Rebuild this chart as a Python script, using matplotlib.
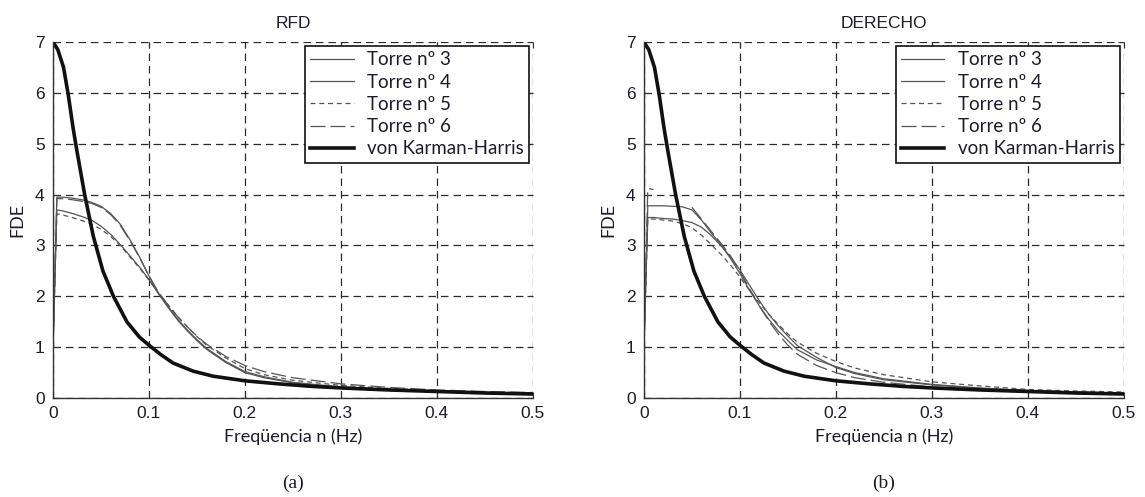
import matplotlib.pyplot as plt
import numpy as np


# frequency grid (Hz)
freq = [0.0, 0.004, 0.01, 0.02, 0.03, 0.04, 0.05, 0.06, 0.07, 0.08, 0.09,
        0.10, 0.11, 0.12, 0.13, 0.14, 0.15, 0.16, 0.18, 0.20, 0.22, 0.25,
        0.30, 0.35, 0.40, 0.45, 0.50]

# von Karman-Harris spectrum
vkh_freq = [0.0, 0.005, 0.011, 0.016, 0.021, 0.025, 0.033, 0.042, 0.052,
            0.063, 0.077, 0.09, 0.10, 0.112, 0.125, 0.146, 0.167, 0.20,
            0.235, 0.27, 0.30, 0.35, 0.40, 0.45, 0.50]
vkh_fde = [7.0, 6.85, 6.5, 5.95, 5.3, 4.85, 4.0, 3.18, 2.5, 2.0, 1.5, 1.2,
           1.04, 0.86, 0.69, 0.53, 0.43, 0.34, 0.28, 0.23, 0.20, 0.16, 0.13,
           0.10, 0.08]

# RFD towers
rfd_t3 = [1.0, 3.95, 3.95, 3.93, 3.9, 3.85, 3.77, 3.63, 3.42, 3.12, 2.78,
          2.40, 2.05, 1.78, 1.53, 1.32, 1.13, 0.96, 0.70, 0.50, 0.40, 0.30,
          0.21, 0.16, 0.13, 0.11, 0.09]
rfd_t4 = [1.0, 3.70, 3.68, 3.63, 3.57, 3.50, 3.38, 3.22, 3.02, 2.80, 2.58,
          2.33, 2.05, 1.80, 1.55, 1.34, 1.15, 0.98, 0.72, 0.52, 0.42, 0.31,
          0.22, 0.17, 0.13, 0.11, 0.09]
rfd_t5 = [1.0, 3.62, 3.60, 3.55, 3.49, 3.42, 3.32, 3.18, 3.00, 2.78, 2.56,
          2.32, 2.07, 1.83, 1.60, 1.40, 1.21, 1.04, 0.79, 0.58, 0.46, 0.35,
          0.25, 0.19, 0.15, 0.12, 0.10]
rfd_t6 = [1.0, 3.92, 3.92, 3.90, 3.87, 3.83, 3.75, 3.61, 3.40, 3.10, 2.77,
          2.40, 2.08, 1.83, 1.60, 1.40, 1.22, 1.06, 0.82, 0.64, 0.52, 0.40,
          0.28, 0.21, 0.16, 0.13, 0.11]

# DERECHO towers
der_t3 = [1.0, 3.78, 3.78, 3.78, 3.77, 3.76, 3.70, 3.50, 3.25, 3.02, 2.75,
          2.45, 2.12, 1.82, 1.55, 1.32, 1.13, 0.95, 0.75, 0.62, 0.50, 0.38,
          0.27, 0.20, 0.15, 0.12, 0.10]
der_t4 = [1.0, 3.55, 3.55, 3.53, 3.52, 3.49, 3.45, 3.36, 3.20, 3.00, 2.78,
          2.52, 2.22, 1.92, 1.65, 1.42, 1.22, 1.03, 0.80, 0.60, 0.48, 0.36,
          0.26, 0.19, 0.15, 0.12, 0.10]
der_t5 = [1.0, 3.52, 3.52, 3.50, 3.48, 3.43, 3.35, 3.20, 3.02, 2.83, 2.62,
          2.38, 2.12, 1.88, 1.65, 1.45, 1.26, 1.10, 0.88, 0.72, 0.59, 0.46,
          0.32, 0.24, 0.17, 0.14, 0.12]
der_t6 = [1.0, 4.12, 4.10, np.nan, np.nan, np.nan, 3.75, 3.52, 3.28, 3.05,
          2.80, 2.50, 2.15, 1.82, 1.52, 1.26, 1.04, 0.86, 0.64, 0.50, 0.40,
          0.31, 0.22, 0.17, 0.13, 0.11, 0.09]

panels = [
    ('RFD', '(a)', [rfd_t3, rfd_t4, rfd_t5, rfd_t6]),
    ('DERECHO', '(b)', [der_t3, der_t4, der_t5, der_t6]),
]
labels = ['Torre nº 3', 'Torre nº 4', 'Torre nº 5', 'Torre nº 6']
styles = ['-', '-', (0, (4, 3)), (0, (12, 4))]

TXT = '#1c1c2a'
plt.rcParams.update({
    'font.family': ['Liberation Sans', 'DejaVu Sans'],
    'font.size': 12,
})

fig = plt.figure(figsize=(11.45, 4.97), dpi=100)
lefts = [0.0463, 0.5624]
for (title, tag, towers), left in zip(panels, lefts):
    ax = fig.add_axes([left, 0.199, 0.419, 0.7165])
    for y, lab, ls in zip(towers, labels, styles):
        ax.plot(freq, y, color='#555555', lw=0.9, ls=ls, label=lab)
    ax.plot(vkh_freq, vkh_fde, color='#111111', lw=2.6,
            label='von Karman-Harris')
    ax.set_xlim(0, 0.5)
    ax.set_ylim(0, 7)
    ax.set_xticks([0, 0.1, 0.2, 0.3, 0.4, 0.5])
    ax.set_xticklabels(['0', '0.1', '0.2', '0.3', '0.4', '0.5'])
    ax.set_yticks(range(8))
    ax.grid(True, color='#2a2a2a', ls=(0, (6, 4)), lw=0.9)
    ax.spines['top'].set_visible(False)
    ax.spines['right'].set_visible(False)
    for s in ('left', 'bottom'):
        ax.spines[s].set_color('#333333')
        ax.spines[s].set_linewidth(1.0)
    ax.tick_params(direction='in', top=True, right=True, length=4,
                   labelsize=12.5, colors='#333333', labelcolor=TXT, pad=6)
    ax.set_title(title, fontsize=12.5, color=TXT, pad=10)
    ax.set_xlabel('Freqüencia n (Hz)', fontsize=13, color=TXT,
                  family=['Lato', 'DejaVu Sans'], labelpad=5)
    ax.set_ylabel('FDE', fontsize=13, color=TXT,
                  family=['Lato', 'DejaVu Sans'], labelpad=7)
    leg = ax.legend(loc='upper right', fancybox=False, framealpha=1,
                    edgecolor='#111111', handlelength=2.3, borderpad=0.3,
                    labelspacing=0.28, handletextpad=0.7,
                    borderaxespad=0.2,
                    prop={'family': ['Lato', 'DejaVu Sans'], 'size': 13.5})
    leg.get_frame().set_linewidth(1.2)
    for t in leg.get_texts():
        t.set_color(TXT)
    ax.text(0.5, -0.215, tag, transform=ax.transAxes, ha='center',
            va='top', fontsize=14, color=TXT,
            family=['Liberation Serif', 'DejaVu Serif'])

fig.savefig('out.png', dpi=100)
